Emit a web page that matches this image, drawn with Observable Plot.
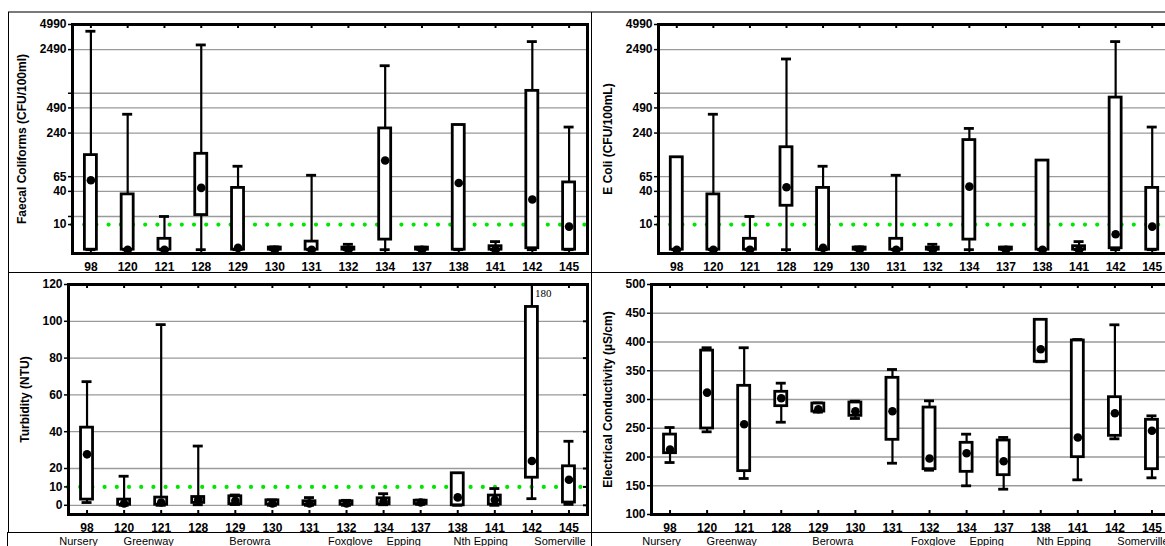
<!DOCTYPE html>
<html><head><meta charset="utf-8">
<script src="https://cdn.jsdelivr.net/npm/d3@7"></script>
<script src="https://cdn.jsdelivr.net/npm/@observablehq/plot@0.6"></script>
<style>
html,body{margin:0;padding:0;background:#fff;}
#wrap{position:relative;width:1165px;height:546px;overflow:hidden;background:#fff;}
.cell{position:absolute;}
.cell svg{background:transparent !important;max-width:none !important;}
.line{position:absolute;background:#000;}
</style></head><body><div id="wrap"></div>
<script>
// ---------- data ----------
const sites = ["98","120","121","128","129","130","131","132","134","137","138","141","142","145"];

// Faecal coliforms (CFU/100ml)
const fcMin = [0,0,0,0,0,0,0,0,0,0,0,0,0,0];
const fcQ1  = [0,0,0,16,0,0,0,0,3.2,0,0,0,0.4,0];
const fcMid = [58,0,0,45,0.5,0,0,0,107,0,53,0,30,8.9];
const fcQ3  = [126,36,3.5,131,45,0.6,2.5,0.6,274,0.6,302,1,791,54];
const fcMax = [4140,410,15,2835,90,0.8,68,1.6,1593,0.7,302,2.5,3110,285];

// E Coli (CFU/100mL)
const ecMin = [0,0,0,0,0,0,0,0,0,0,0,0,0,0];
const ecQ1  = [0,0,0,23.6,0,0,0,0,3.2,0,0,0,0.4,0];
const ecMid = [0,0,0,46,0.5,0,0,0,47,0,0,0,5.3,8.9];
const ecQ3  = [118,36,3.5,159,45,0.6,3.5,0.6,196,0.6,107,1,655,45];
const ecMax = [118,410,15,1920,90,0.8,68,1.6,274,0.7,107,2.5,3110,285];

// Turbidity (NTU)
const tuMin = [1.5,0,0,0.3,0.4,0,0,0,0.3,0.5,0,0,3.6,0.5];
const tuQ1  = [3.1,0.3,0.3,1.3,0.6,0.4,0.3,0.3,0.5,0.7,0,0.4,15,1.5];
const tuMid = [27.7,1,1.5,3,2.5,1,1,1,2,1.5,4.3,3,24.1,13.9];
const tuQ3  = [42.2,3.1,4.2,4.5,4.9,2.7,2.2,2.2,3.8,2.5,17.4,5.3,107.8,21.2];
const tuMax = [67.2,15.8,98.2,32.2,5.6,2.9,4.2,2.7,6.3,2.8,17.4,9.1,180,34.8];

// Electrical conductivity (µS/cm)
const coMin = [190.4,243.8,162.6,260.5,278,267,189.2,177,149.9,144,365.6,160.3,231.6,163.8];
const coQ1  = [206.6,249.6,175.4,288.4,279,271.6,229.9,178.8,174.2,168.4,365.6,199.7,236.8,178.8];
const coMid = [213,312,257,302.3,283,279.6,279.6,197.4,206.6,192.7,387.5,234,276.2,245.6];
const coQ3  = [239,385,323.8,313.4,293,294.8,337.7,286,224.7,228.7,438.6,402.6,304,264.7];
const coMax = [251.3,390,390,328.4,294,297,352.2,297.7,239.7,234,438.6,404.3,429.9,271.6];

// axis ticks
const logTickLabels = [10,40,65,240,490,2490,4990];
const logGridValues = [15,40,65,240,490,740,2490];
const logDomain = [-1,4990];
const turbTicks = [0,10,20,40,60,80,100,120];
const turbGrid = [0,20,40,60,80,100];
const turbDomain = [-5,120];
const condTicks = [100,150,200,250,300,350,400,450,500];
const condGrid = [150,200,250,300,350,400,450];
const condDomain = [100,500];
const guideValue = 10;

// site groups
const groupNames = ["Nursery","Greenway","Berowra","Foxglove","Epping","Nth Epping","Somerville"];
const groupAnchors = ["98","121","129","132","137","138","145"];

// ---------- layout (not data) ----------
const groupDx = [-8.5,-12.5,14.5,3.7,-17,23,-9];
const FONT = "Arial, 'Liberation Sans', sans-serif";

function rowsOf(mn,q1,md,q3,mx){
  return sites.map((site,i)=>({site,min:mn[i],q1:q1[i],mid:md[i],q3:q3[i],max:mx[i]}));
}
const logT = v => Math.log10(v + 10);
const logInv = t => Math.round(Math.pow(10, t) - 10);
const idT = v => v;

function makePanel(c){
  const innerW = c.width - c.ml - c.mr, innerH = c.height - c.mt - c.mb;
  const bw = innerW / sites.length;
  const T = c.T;
  const yDom = c.domain.map(T);
  const yTop = yDom[1];
  const boxInset = (bw - 12) / 2, capInset = (bw - 10) / 2;
  const rows = c.rows;
  const marks = [
    Plot.ruleY(c.grid, {y: T, stroke: "#9a9a9a", strokeWidth: 1.3})
  ];
  if (c.guide != null) marks.push(Plot.ruleY([c.guide], {y: T, stroke: "#00e600", strokeWidth: 4.2, strokeLinecap: "round", strokeDasharray: "0 12.2"}));
  marks.push(
    Plot.ruleX(rows, {x: "site", y1: d => T(d.min), y2: d => Math.min(T(d.max), yTop), stroke: "#000", strokeWidth: 2.2}),
    Plot.tickY(rows, {x: "site", y: d => T(d.min), stroke: "#000", strokeWidth: 2.8, insetLeft: capInset, insetRight: capInset}),
    Plot.tickY(rows.filter(d => T(d.max) <= yTop), {x: "site", y: d => T(d.max), stroke: "#000", strokeWidth: 2.8, insetLeft: capInset, insetRight: capInset}),
    Plot.barY(rows, {x: "site", y1: d => T(d.q1), y2: d => T(d.q3), fill: "#fff", stroke: "#000", strokeWidth: 2.8, insetLeft: boxInset, insetRight: boxInset}),
    Plot.dot(rows, {x: "site", y: d => T(d.mid), r: 4.3, fill: "#000", stroke: "none"}),
    Plot.text(rows.filter(d => T(d.max) > yTop), {x: "site", frameAnchor: "top", lineAnchor: "middle", text: d => String(d.max), dx: 3, dy: 9, textAnchor: "start", fontFamily: "'Times New Roman', 'Liberation Serif', serif", fontWeight: "normal", fontSize: 11}),
    Plot.frame({stroke: "#000", strokeWidth: 3}),
    Plot.ruleX(sites, {x: d => d, insetTop: innerH - 4, stroke: "#000", strokeWidth: 2}),
    Plot.ruleX(sites, {x: d => d, insetBottom: innerH - 4, stroke: "#000", strokeWidth: 2}),
    Plot.axisX({label: null, tickSize: 0, tickPadding: 9, fontSize: 12, fontWeight: "bold"}),
    Plot.axisY({label: null, ticks: c.ticks.map(T), tickFormat: t => String(c.inv(t)), tickSize: 0, tickPadding: 6, fontSize: 12, fontWeight: "bold"}),
    Plot.axisY({label: null, ticks: Array.from(new Set([...c.ticks, ...c.grid])).map(T), tickFormat: () => "", tickSize: 4, strokeWidth: 1.5}),
    Plot.text([c.title], {frameAnchor: "left", textAnchor: "middle", lineAnchor: "middle", text: d => d, rotate: -90, dx: c.titleDx, fontSize: 12, fontWeight: "bold"})
  );
  if (c.rightTicks) marks.push(Plot.ruleY(c.ticks, {y: T, insetLeft: innerW - 4, stroke: "#000", strokeWidth: 2}));
  if (c.groups) {
    groupNames.forEach((g, i) => {
      marks.push(Plot.text([g], {x: () => groupAnchors[i], text: d => d, frameAnchor: "bottom", lineAnchor: "middle", dy: 26.5, dx: groupDx[i], fontSize: 11, fontWeight: "normal"}));
    });
  }
  const svg = Plot.plot({
    width: c.width, height: c.height,
    marginLeft: c.ml, marginRight: c.mr, marginTop: c.mt, marginBottom: c.mb,
    style: {fontFamily: FONT, fontSize: "12px", fontWeight: "bold", color: "#000", background: "transparent", overflow: "visible"},
    x: {type: "band", domain: sites, padding: 0, round: false},
    y: {type: "linear", domain: yDom, nice: false},
    marks
  });
  const div = document.createElement("div");
  div.className = "cell";
  div.style.left = c.left + "px"; div.style.top = c.top + "px";
  div.style.width = c.width + "px"; div.style.height = c.height + "px";
  div.appendChild(svg);
  document.getElementById("wrap").appendChild(div);
}

makePanel({rows: rowsOf(fcMin,fcQ1,fcMid,fcQ3,fcMax), T: logT, inv: logInv, domain: logDomain,
  ticks: logTickLabels, grid: logGridValues, guide: guideValue, title: "Faecal Coliforms (CFU/100ml)",
  left: 0, top: 0, width: 592, height: 272, ml: 72, mr: 5, mt: 24, mb: 19, titleDx: -50});
makePanel({rows: rowsOf(ecMin,ecQ1,ecMid,ecQ3,ecMax), T: logT, inv: logInv, domain: logDomain,
  ticks: logTickLabels, grid: logGridValues, guide: guideValue, title: "E Coli (CFU/100mL)",
  left: 592, top: 0, width: 583, height: 272, ml: 66, mr: 5, mt: 24, mb: 19, titleDx: -50});
makePanel({rows: rowsOf(tuMin,tuQ1,tuMid,tuQ3,tuMax), T: idT, inv: t => Math.round(t), domain: turbDomain,
  ticks: turbTicks, grid: turbGrid, guide: guideValue, title: "Turbidity (NTU)", rightTicks: true, groups: true,
  left: 0, top: 272, width: 592, height: 274, ml: 68, mr: 5, mt: 12, mb: 32, titleDx: -43});
makePanel({rows: rowsOf(coMin,coQ1,coMid,coQ3,coMax), T: idT, inv: t => Math.round(t), domain: condDomain,
  ticks: condTicks, grid: condGrid, guide: null, title: "Electrical Conductivity (µS/cm)", rightTicks: true, groups: true,
  left: 592, top: 272, width: 583, height: 274, ml: 59, mr: 5, mt: 12, mb: 32, titleDx: -43});

// table borders
const wrap = document.getElementById("wrap");
function line(l, t, w, h, col){ const d = document.createElement("div"); d.className = "line"; d.style.cssText = `left:${l}px;top:${t}px;width:${w}px;height:${h}px;background:${col}`; wrap.appendChild(d); }
line(8, 11, 1157, 2, "#7a7a7a");
line(8, 12, 1, 520, "#000");
line(7, 532, 1, 14, "#000");
line(8, 272, 1157, 1, "#000");
line(591, 12, 1, 534, "#000");
line(7, 532, 1158, 1, "#000");
</script></body></html>
